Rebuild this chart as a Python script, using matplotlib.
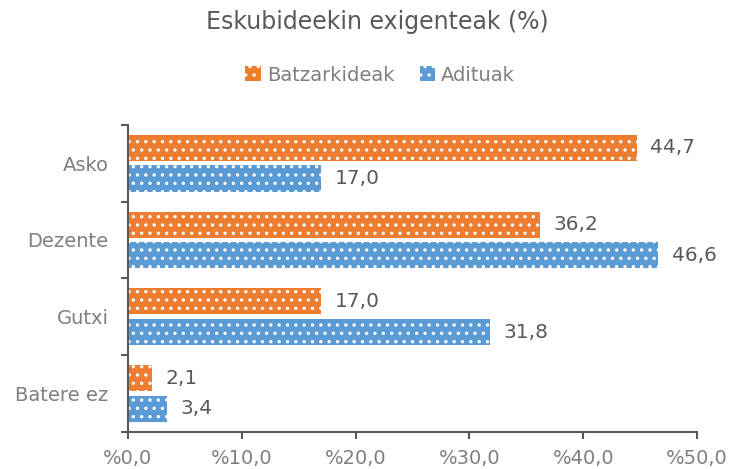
import matplotlib.pyplot as plt
import numpy as np

plt.rcParams['hatch.color'] = 'white'
plt.rcParams['hatch.linewidth'] = 1.2

kategoriak = ['Asko', 'Dezente', 'Gutxi', 'Batere ez']
batzarkideak = [44.7, 36.2, 17.0, 2.1]
adituak = [17.0, 46.6, 31.8, 3.4]
x_ticks = [0, 10, 20, 30, 40, 50]

gris = '#595959'
gris2 = '#7F7F7F'
naranja = '#ED7D31'
azul = '#5B9BD5'

fig = plt.figure(figsize=(7.31, 4.69), dpi=100)
ax = fig.add_axes([0.175, 0.079, 0.7785, 0.655])

y = np.arange(len(kategoriak))
h = 0.34
b1 = ax.barh(y - 0.2, batzarkideak, height=h, color=naranja, hatch='..',
             edgecolor='white', linewidth=0, label='Batzarkideak')
b2 = ax.barh(y + 0.2, adituak, height=h, color=azul, hatch='..',
             edgecolor='white', linewidth=0, label='Adituak')

for barras, vals in ((b1, batzarkideak), (b2, adituak)):
    for r, v in zip(barras, vals):
        ax.text(v + 1.2, r.get_y() + r.get_height() / 2, f'{v:.1f}'.replace('.', ','),
                va='center', ha='left', fontsize=14.5, color=gris)

ax.set_ylim(len(kategoriak) - 0.5, -0.5)
ax.set_xlim(0, 50)
ax.set_xticks(x_ticks)
ax.set_xticklabels([f'%{t:.1f}'.replace('.', ',') for t in x_ticks], fontsize=14, color=gris2)
ax.set_yticks(y)
ax.set_yticklabels(kategoriak, fontsize=14, color=gris2)
ax.tick_params(axis='y', length=0, pad=14)
ax.set_yticks(np.arange(-0.5, len(kategoriak)), minor=True)
ax.tick_params(axis='y', which='minor', length=5, color=gris, width=1.5)
ax.tick_params(axis='x', length=5, color=gris, width=1.5, pad=7)

for s in ['top', 'right']:
    ax.spines[s].set_visible(False)
ax.spines['left'].set_color(gris)
ax.spines['bottom'].set_color(gris)
ax.spines['left'].set_linewidth(1.5)
ax.spines['bottom'].set_linewidth(1.5)

fig.text(0.516, 0.953, 'Eskubideekin exigenteak (%)', ha='center', va='center',
         fontsize=17, color=gris)
fig.legend(handles=[b1, b2], loc='center', bbox_to_anchor=(0.52, 0.84), ncol=2,
           frameon=False, fontsize=14, labelcolor=gris2, handlelength=0.8,
           handleheight=0.8, handletextpad=0.3, columnspacing=1.3)

fig.savefig('out.png', dpi=100)
